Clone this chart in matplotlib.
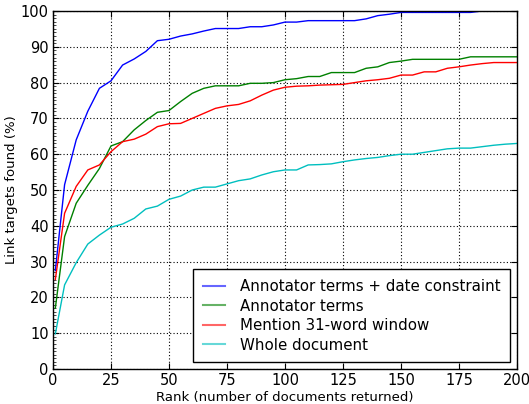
"""
Link target recall vs rank
"""

import numpy
import matplotlib
matplotlib.use('Agg')
import matplotlib.pyplot as plt
from matplotlib.ticker import MultipleLocator

ranks = [1] + list(range(5, 205, 5))

date_constraint = [27.5, 51.5, 64, 72, 78.4, 80.5, 84.9, 86.6, 88.7, 91.7,
                   92.1, 93.0, 93.6, 94.4, 95.1, 95.1, 95.1, 95.6, 95.6, 96.1,
                   96.9, 96.9, 97.3, 97.3, 97.3, 97.3, 97.3, 97.8, 98.7, 99.1,
                   99.6, 99.6, 99.6, 99.6, 99.6, 99.6, 99.6, 100, 100, 100, 100]
annotator = [17, 37, 46.3, 51.3, 56, 62.3, 63.5, 66.8, 69.4, 71.7,
             72.2, 74.7, 77, 78.4, 79.1, 79.1, 79.1, 79.8, 79.8, 80,
             80.8, 81.1, 81.7, 81.7, 82.8, 82.8, 82.8, 84, 84.4, 85.6,
             86, 86.5, 86.5, 86.5, 86.5, 86.5, 87.2, 87.2, 87.2, 87.2, 87.2]
mention = [25, 43.5, 51, 55.6, 57, 60.7, 63.5, 64.2, 65.6, 67.7,
           68.5, 68.6, 70, 71.4, 72.8, 73.5, 73.9, 74.9, 76.5, 77.9,
           78.7, 79, 79.1, 79.3, 79.4, 79.5, 80, 80.5, 80.8, 81.2,
           82.1, 82.1, 83, 83, 84, 84.4, 84.9, 85.3, 85.6, 85.6, 85.6]
whole_doc = [9.8, 23.5, 29.7, 34.9, 37.4, 39.6, 40.5, 42.1, 44.7, 45.5,
             47.4, 48.3, 50, 50.8, 50.8, 51.7, 52.6, 53.1, 54.2, 55.1,
             55.6, 55.6, 57, 57.1, 57.3, 57.9, 58.4, 58.8, 59.1, 59.6,
             60, 60, 60.5, 61, 61.5, 61.7, 61.7, 62.1, 62.5, 62.8, 63]

labels = ['Annotator terms + date constraint', 'Annotator terms',
          'Mention 31-word window', 'Whole document']
colors = ['#0000ff', '#008000', '#ff0000', '#00bfbf']

fig = plt.figure(figsize=(5.29, 4.04), dpi=100)
ax = fig.add_axes([0.1002, 0.0866, 0.877, 0.8862])

for ydata, lab, col in zip([date_constraint, annotator, mention, whole_doc], labels, colors):
    ax.plot(ranks, ydata, color=col, lw=1.0, label=lab)

ax.set_xlim(0, 200)
ax.set_ylim(0, 100)
ax.xaxis.set_major_locator(MultipleLocator(25))
ax.yaxis.set_major_locator(MultipleLocator(10))
ax.yaxis.set_minor_locator(MultipleLocator(1))
ax.tick_params(which='major', direction='in', length=4, width=0.8,
               top=True, right=True, labelsize=10.5, pad=3)
ax.tick_params(which='minor', direction='in', length=2, width=0.5,
               left=True, right=False)
ax.grid(True, which='major', color='black', linestyle=(0, (1, 2)), linewidth=0.8)
for s in ax.spines.values():
    s.set_linewidth(1.0)

ax.set_xlabel('Rank (number of documents returned)', fontsize=9.5, labelpad=2)
ax.set_ylabel('Link targets found (%)', fontsize=9.5, labelpad=2)

leg = ax.legend(loc='lower right', fontsize=10.8, fancybox=False, framealpha=1,
                edgecolor='black', handlelength=1.45, handletextpad=1.0,
                borderpad=0.65, borderaxespad=0.45, labelspacing=0.3)
leg.get_frame().set_linewidth(1.0)
for h in leg.get_lines():
    h.set_alpha(0.6)
    h.set_linewidth(1.5)

plt.savefig('out.png', dpi=100)
